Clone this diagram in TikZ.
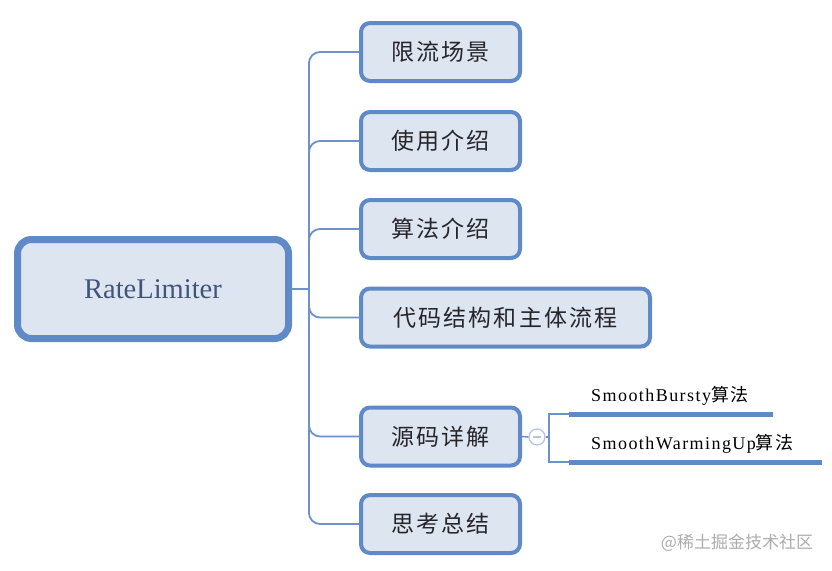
\documentclass[tikz,border=0pt]{standalone}
\usepackage{fontspec}
\usetikzlibrary{calc}
\setmainfont{Liberation Serif}
\newfontfamily\cjk[LetterSpace=9]{Noto Sans CJK SC}
\newfontfamily\cjkw{Noto Sans CJK SC}
\newfontfamily\latsp[LetterSpace=8]{Liberation Serif}
\newfontfamily\cjksub[LetterSpace=8]{Noto Sans CJK SC}
\definecolor{bord}{HTML}{6089C8}
\definecolor{fillc}{HTML}{DDE5F1}
\definecolor{linec}{HTML}{6E91CB}
\definecolor{txtc}{HTML}{26262A}
\definecolor{roottxt}{HTML}{43547A}
\definecolor{colc}{HTML}{B9C5DF}
\begin{document}
\begin{tikzpicture}[x=1pt,y=-1pt,
  rootbox/.style={draw=bord,fill=fillc,line width=7pt,rounded corners=14pt,
    minimum width=271pt,minimum height=99pt,inner sep=0pt,
    font=\fontsize{28.5}{30}\selectfont,text=roottxt},
  childbox/.style={draw=bord,fill=fillc,line width=4pt,rounded corners=9pt,
    minimum width=159pt,minimum height=58pt,inner sep=0pt,
    font=\fontsize{23}{26}\cjk,text=txtc},
  conn/.style={draw=linec,line width=1.8pt,rounded corners=11pt},
  subline/.style={draw=bord,line width=5pt},
  subtxt/.style={inner sep=0pt,text=black,font=\fontsize{18}{20}\selectfont},
]
\useasboundingbox (0,0) rectangle (832,570);
\fill[white] (0,0) rectangle (832,570);

\node[rootbox] (root) at (153,289) {RateLimiter};
\node[childbox] (c1) at (440.5,52) {限流场景};
\node[childbox] (c2) at (440.5,141) {使用介绍};
\node[childbox] (c3) at (440.5,229) {算法介绍};
\node[childbox,minimum width=289pt] (c4) at (505.5,317.5) {代码结构和主体流程};
\node[childbox] (c5) at (440.5,436.5) {源码详解};
\node[childbox] (c6) at (440.5,524) {思考总结};

\coordinate (j) at (309,289);
\draw[conn] (root.east) -- (j);
\foreach \c in {c1,c2,c3,c4,c5,c6}{
  \draw[conn] (j) |- (\c.west);
}

\node[circle,draw=colc,line width=1.3pt,fill=white,minimum size=16pt,inner sep=0pt] (col) at (537,437) {};
\draw[colc,line width=1.3pt] ($(col.center)+(-4,0)$) -- ($(col.center)+(4,0)$);
\draw[linec,line width=1.5pt] (c5.east) -- (col.west);

\coordinate (s1a) at (569,414);
\coordinate (s1b) at (773,414);
\coordinate (s2a) at (569,462);
\coordinate (s2b) at (822,462);
\coordinate (k) at (549,437);
\draw[linec,line width=1.5pt] (col.east) -- (k);
\draw[linec,line width=1.5pt] (s1a) -| (k) |- (s2a);
\draw[subline] (s1a) -- (s1b);
\draw[subline] (s2a) -- (s2b);

\node[subtxt,anchor=base west] (t1) at (591,401) {{\latsp SmoothBursty}{\cjksub 算法}};
\node[subtxt,anchor=base west] (t2) at (591,449) {{\latsp SmoothWarmingUp}{\cjksub 算法}};

\node[inner sep=0pt,text=black!32,font=\fontsize{17}{19}\cjkw] (wm) at (737,543) {@稀土掘金技术社区};
\end{tikzpicture}
\end{document}
